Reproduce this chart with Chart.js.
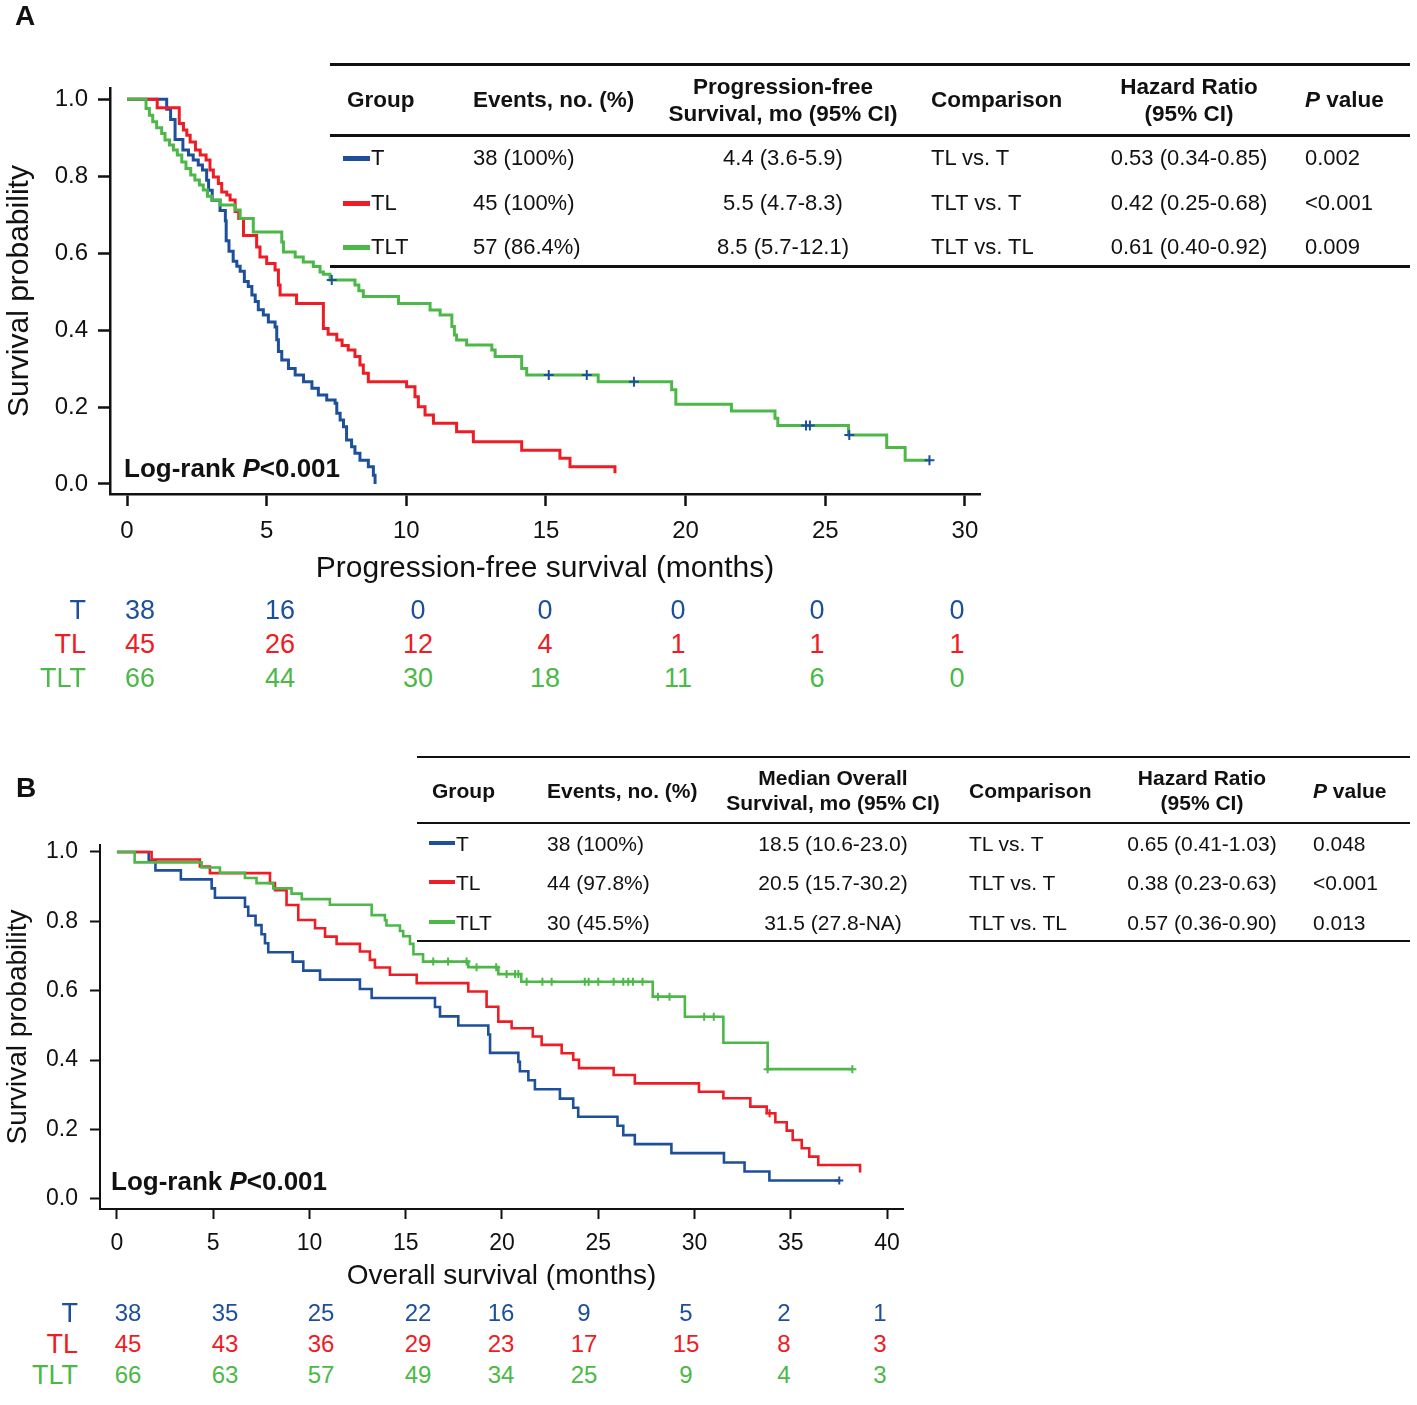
<!DOCTYPE html>
<html><head><meta charset="utf-8">
<script src="https://cdn.jsdelivr.net/npm/chart.js@4.4.0/dist/chart.umd.min.js"></script>
<style>
html,body{margin:0;padding:0;background:#fff;}
body{width:1417px;height:1405px;position:relative;overflow:hidden;font-family:"Liberation Sans",Arial,sans-serif;color:#111;}
.t{position:absolute;white-space:nowrap;line-height:1;}
.cv{position:absolute;}
.hl{position:absolute;background:#111;}
.sw{position:absolute;}
</style></head><body>
<canvas id="cA" class="cv" width="1000" height="600" style="left:0;top:0;width:1000px;height:600px"></canvas>
<canvas id="cB" class="cv" width="1000" height="600" style="left:0;top:700px;width:1000px;height:600px"></canvas>
<script>
// ---------- DATA ----------
const groups = ["T", "TL", "TLT"];
const xTicksA = [0, 5, 10, 15, 20, 25, 30];
const xTicksB = [0, 5, 10, 15, 20, 25, 30, 35, 40];
const yTicks = [0, 0.2, 0.4, 0.6, 0.8, 1.0];

// Panel A: progression-free survival (step curves)
const pfsT_time = [0,1.42,1.56,1.72,2.0,2.2,2.37,2.55,2.7,2.85,2.92,3.05,3.33,3.52,3.55,3.65,3.8,3.93,4.05,4.2,4.34,4.47,4.59,4.7,4.88,5.06,5.3,5.36,5.42,5.54,5.78,6.02,6.32,6.62,6.85,7.15,7.45,7.51,7.63,7.75,7.86,8.04,8.16,8.34,8.64,8.82,8.88];
const pfsT_surv = [1,0.974,0.947,0.895,0.868,0.855,0.842,0.829,0.816,0.789,0.763,0.737,0.711,0.684,0.632,0.605,0.579,0.566,0.553,0.526,0.513,0.491,0.474,0.453,0.439,0.421,0.408,0.375,0.344,0.322,0.300,0.283,0.266,0.249,0.231,0.218,0.210,0.184,0.166,0.149,0.114,0.097,0.080,0.062,0.045,0.023,0.0];
const pfsTL_time = [0,1.08,1.87,2.02,2.14,2.26,2.45,2.62,2.83,2.97,3.09,3.27,3.39,3.57,3.69,3.87,4.0,4.17,4.64,4.76,5.0,5.3,5.42,5.48,6.07,7.03,7.2,7.51,7.7,7.92,8.16,8.34,8.46,8.64,10.01,10.31,10.43,10.67,10.97,11.8,12.4,14.13,15.5,15.86,17.47,17.47];
const pfsTL_surv = [1,0.978,0.937,0.920,0.906,0.889,0.868,0.855,0.842,0.816,0.798,0.781,0.759,0.751,0.738,0.708,0.690,0.646,0.616,0.590,0.573,0.556,0.517,0.491,0.469,0.404,0.389,0.374,0.360,0.348,0.331,0.309,0.288,0.266,0.253,0.227,0.201,0.179,0.158,0.136,0.110,0.088,0.067,0.045,0.045,0.028];
const pfsTLT_time = [0,0.68,0.80,0.92,1.06,1.24,1.36,1.52,1.66,1.80,1.96,2.11,2.28,2.43,2.59,2.73,2.88,3.03,3.33,3.87,4.05,4.52,5.54,5.6,6.02,6.31,6.67,6.91,7.03,7.27,8.16,8.3,8.46,9.72,10.85,11.21,11.63,11.72,11.8,12.16,13.06,13.18,14.13,14.31,16.87,19.5,19.65,21.64,23.2,23.3,25.83,27.2,27.86,28.76];
const pfsTLT_surv = [1,0.976,0.958,0.941,0.926,0.911,0.894,0.881,0.868,0.855,0.837,0.820,0.803,0.790,0.777,0.764,0.748,0.738,0.725,0.712,0.690,0.655,0.629,0.603,0.590,0.577,0.565,0.551,0.545,0.530,0.517,0.502,0.487,0.469,0.452,0.439,0.409,0.387,0.374,0.361,0.348,0.331,0.300,0.283,0.266,0.245,0.207,0.190,0.171,0.152,0.127,0.095,0.062,0.062];
const pfsCensorTLT_time = [7.33,15.1,16.46,18.15,24.31,24.45,25.86,28.73];
const pfsCensorTLT_surv = [0.530,0.283,0.283,0.266,0.152,0.152,0.127,0.062];

// Panel B: overall survival
const osT_time = [0,1.65,2.0,3.32,4.92,5.09,6.65,6.82,7.2,7.51,7.69,7.86,9.13,9.68,10.55,12.62,13.23,16.52,16.78,17.73,19.29,19.38,20.85,20.93,21.37,21.71,23.01,23.7,23.96,26.0,26.3,26.9,28.8,31.53,32.6,33.89,37.52];
const osT_surv = [1,0.974,0.947,0.921,0.895,0.868,0.842,0.816,0.789,0.763,0.737,0.711,0.684,0.658,0.632,0.605,0.579,0.553,0.526,0.500,0.474,0.421,0.395,0.368,0.342,0.316,0.289,0.263,0.237,0.211,0.184,0.158,0.132,0.105,0.079,0.053,0.053];
const osTL_time = [0,1.8,4.31,4.83,7.95,8.21,8.81,9.42,10.29,10.81,11.41,12.62,13.14,13.4,14.18,15.57,18.25,19.2,19.81,20.5,21.6,22.06,23.1,23.7,24.0,25.8,26.9,30.23,31.5,32.9,33.75,34.2,34.79,35.1,35.57,35.96,36.43,38.6,38.6];
const osTL_surv = [1,0.978,0.958,0.939,0.910,0.890,0.847,0.804,0.780,0.756,0.735,0.713,0.689,0.667,0.646,0.622,0.598,0.554,0.511,0.492,0.468,0.444,0.420,0.401,0.377,0.357,0.333,0.309,0.290,0.266,0.247,0.221,0.197,0.170,0.146,0.122,0.098,0.098,0.076];
const osTLT_time = [0,0.92,4.40,5.35,6.65,7.25,8.12,9.07,9.6,11.06,13.23,13.92,14.0,14.7,14.87,15.22,15.4,15.9,18.25,19.81,21.0,27.83,29.5,31.5,33.8,38.2];
const osTLT_surv = [1,0.970,0.955,0.940,0.925,0.910,0.895,0.880,0.864,0.848,0.818,0.803,0.788,0.772,0.757,0.735,0.705,0.684,0.668,0.648,0.626,0.583,0.525,0.450,0.374,0.374];
const osCensorT_time = [37.52];
const osCensorT_surv = [0.053];
const osCensorTL_time = [33.9];
const osCensorTL_surv = [0.247];
const osCensorTLT_time = [16.43,17.2,18.16,18.68,19.7,20.24,20.68,20.85,21.28,22.1,22.58,24.3,24.5,25.0,25.8,26.3,26.56,26.8,27.3,28.1,28.7,30.5,31.0,33.8,38.2];
const osCensorTLT_surv = [0.684,0.684,0.684,0.668,0.668,0.648,0.648,0.648,0.626,0.626,0.626,0.626,0.626,0.626,0.626,0.626,0.626,0.626,0.626,0.583,0.583,0.525,0.525,0.374,0.374];

// Tables
const headersA = ["Group", "Events, no. (%)", "Progression-free<br>Survival, mo (95% CI)", "Comparison", "Hazard Ratio<br>(95% CI)", "<i>P</i> value"];
const eventsA = ["38 (100%)", "45 (100%)", "57 (86.4%)"];
const medianA = ["4.4 (3.6-5.9)", "5.5 (4.7-8.3)", "8.5 (5.7-12.1)"];
const comparisons = ["TL vs. T", "TLT vs. T", "TLT vs. TL"];
const hrA = ["0.53 (0.34-0.85)", "0.42 (0.25-0.68)", "0.61 (0.40-0.92)"];
const pA = ["0.002", "<0.001", "0.009"];
const headersB = ["Group", "Events, no. (%)", "Median Overall<br>Survival, mo (95% CI)", "Comparison", "Hazard Ratio<br>(95% CI)", "<i>P</i> value"];
const eventsB = ["38 (100%)", "44 (97.8%)", "30 (45.5%)"];
const medianB = ["18.5 (10.6-23.0)", "20.5 (15.7-30.2)", "31.5 (27.8-NA)"];
const hrB = ["0.65 (0.41-1.03)", "0.38 (0.23-0.63)", "0.57 (0.36-0.90)"];
const pB = ["0.048", "<0.001", "0.013"];

// Numbers at risk
const riskA_T = [38, 16, 0, 0, 0, 0, 0];
const riskA_TL = [45, 26, 12, 4, 1, 1, 1];
const riskA_TLT = [66, 44, 30, 18, 11, 6, 0];
const riskB_T = [38, 35, 25, 22, 16, 9, 5, 2, 1];
const riskB_TL = [45, 43, 36, 29, 23, 17, 15, 8, 3];
const riskB_TLT = [66, 63, 57, 49, 34, 25, 9, 4, 3];

// ---------- STYLE ----------
const BLUE = "#1d4f9b", RED = "#ee1c24", GREEN = "#4cb848", INK = "#111";
const colors = [BLUE, RED, GREEN];
Chart.defaults.font.family = "'Liberation Sans', Arial, sans-serif";

function xy(ts, ss) { return ts.map((t, i) => ({ x: t, y: ss[i] })); }

function kmChart(id, o) {
  const ds = [];
  o.curves.forEach((c, k) => {
    ds.push({ data: xy(c.t, c.s), borderColor: c.color, borderWidth: o.lw, stepped: 'before',
      pointRadius: 0, fill: false, order: 3 - k, clip: false });
  });
  o.censors.forEach(c => {
    ds.push({ data: xy(c.t, c.s), showLine: false, pointStyle: 'cross', pointRadius: o.cr,
      pointBorderWidth: 2, pointBorderColor: c.color, borderColor: c.color, order: 0, clip: false });
  });
  return new Chart(document.getElementById(id), {
    type: 'line',
    data: { datasets: ds },
    options: {
      responsive: false, animation: false, devicePixelRatio: 1,
      layout: { padding: o.pad },
      plugins: { legend: { display: false }, tooltip: { enabled: false } },
      scales: {
        x: { type: 'linear', min: o.xmin, max: o.xmax,
          afterBuildTicks: s => { s.ticks = o.xticks.map(v => ({ value: v })); },
          afterFit: s => { s.height = o.xh; },
          ticks: { autoSkip: false, maxRotation: 0, font: { size: o.tf }, color: INK, padding: o.xpad, callback: v => String(v) },
          grid: { drawOnChartArea: false, drawTicks: true, tickLength: o.tl, tickWidth: o.aw, tickColor: INK },
          border: { display: true, color: INK, width: o.aw },
          title: { display: true, text: o.xtitle, font: { size: o.ttf }, color: INK, padding: { top: 0, bottom: o.xtpad } } },
        y: { type: 'linear', min: o.ymin, max: o.ymax,
          afterBuildTicks: s => { s.ticks = yTicks.map(v => ({ value: v })); },
          afterFit: s => { s.width = o.yw; },
          ticks: { autoSkip: false, font: { size: o.tf }, color: INK, padding: o.ypad, callback: v => Number(v).toFixed(1) },
          grid: { drawOnChartArea: false, drawTicks: true, tickLength: o.tl, tickWidth: o.aw, tickColor: INK },
          border: { display: true, color: INK, width: o.aw },
          title: { display: true, text: 'Survival probability', font: { size: o.ttf }, color: INK, padding: { top: o.ytpad, bottom: 0 } } }
      }
    }
  });
}

kmChart('cA', {
  curves: [ { t: pfsT_time, s: pfsT_surv, color: BLUE }, { t: pfsTL_time, s: pfsTL_surv, color: RED }, { t: pfsTLT_time, s: pfsTLT_surv, color: GREEN } ],
  censors: [ { t: pfsCensorTLT_time, s: pfsCensorTLT_surv, color: BLUE } ],
  lw: 3, cr: 5, aw: 2.5, tl: 12, tf: 24, ttf: 30,
  xmin: -0.61, xmax: 30.54, ymin: -0.026, ymax: 1.029, xticks: xTicksA,
  pad: { left: 0, top: 88, right: 20, bottom: 0 }, xh: 106, yw: 110,
  xpad: 11, ypad: 10, xtpad: 13, ytpad: 2,
  xtitle: 'Progression-free survival (months)'
});
kmChart('cB', {
  curves: [ { t: osT_time, s: osT_surv, color: BLUE }, { t: osTL_time, s: osTL_surv, color: RED }, { t: osTLT_time, s: osTLT_surv, color: GREEN } ],
  censors: [ { t: osCensorT_time, s: osCensorT_surv, color: BLUE }, { t: osCensorTL_time, s: osCensorTL_surv, color: RED }, { t: osCensorTLT_time, s: osCensorTLT_surv, color: GREEN } ],
  lw: 2.6, cr: 4, aw: 2, tl: 10, tf: 23, ttf: 28,
  xmin: -0.88, xmax: 40.83, ymin: -0.029, ymax: 1.02, xticks: xTicksB,
  pad: { left: 0, top: 145, right: 97, bottom: 0 }, xh: 91, yw: 100,
  xpad: 11, ypad: 12, xtpad: 7, ytpad: 1,
  xtitle: 'Overall survival (months)'
});

// ---------- OVERLAY TEXT ----------
function txt(x, y, html, o) {
  o = o || {};
  const d = document.createElement('div');
  d.className = 't';
  d.innerHTML = html;
  const ax = o.align === 'center' ? '-50%' : o.align === 'right' ? '-100%' : '0';
  d.style.left = x + 'px'; d.style.top = y + 'px';
  d.style.transform = 'translate(' + ax + ',-50%)';
  d.style.fontSize = (o.size || 20) + 'px';
  if (o.bold) d.style.fontWeight = 'bold';
  if (o.color) d.style.color = o.color;
  if (o.lh) { d.style.lineHeight = o.lh + 'px'; d.style.textAlign = o.align || 'left'; }
  document.body.appendChild(d);
}
function hline(x1, x2, y, w) {
  const d = document.createElement('div'); d.className = 'hl';
  d.style.left = x1 + 'px'; d.style.width = (x2 - x1) + 'px';
  d.style.top = (y - w / 2) + 'px'; d.style.height = w + 'px';
  document.body.appendChild(d);
}
function swatch(x, y, w, h, c) {
  const d = document.createElement('div'); d.className = 'sw';
  d.style.left = x + 'px'; d.style.top = (y - h / 2) + 'px';
  d.style.width = w + 'px'; d.style.height = h + 'px'; d.style.background = c;
  document.body.appendChild(d);
}

// Panel letters
txt(15, 16, 'A', { size: 28, bold: true });
txt(16, 788, 'B', { size: 28, bold: true });

// Log-rank annotations
txt(124, 468, 'Log-rank <i>P</i>&lt;0.001', { size: 26, bold: true });
txt(111, 1181, 'Log-rank <i>P</i>&lt;0.001', { size: 26, bold: true });

// Table builder
function table(L) {
  hline(L.x1, L.x2, L.yTop, L.lw);
  hline(L.x1, L.x2, L.yMid, L.lw);
  hline(L.x1, L.x2, L.yBot, L.lw);
  const cx = L.cols;
  L.headers.forEach((h, i) => {
    const two = h.indexOf('<br>') >= 0;
    txt(cx[i].x, L.yHead, h, { size: L.hs, bold: true, align: cx[i].a, lh: two ? L.hlh : null });
  });
  groups.forEach((g, r) => {
    const y = L.rows[r];
    swatch(L.swx, y, L.sww, L.swh, colors[r]);
    txt(L.swx + L.sww + 1, y, g, { size: L.bs });
    txt(cx[1].x, y, L.events[r], { size: L.bs, align: cx[1].a });
    txt(cx[2].x, y, L.median[r], { size: L.bs, align: 'center' });
    txt(cx[3].x, y, comparisons[r], { size: L.bs, align: cx[3].a });
    txt(cx[4].x, y, L.hr[r], { size: L.bs, align: 'center' });
    txt(cx[5].x, y, L.p[r].replace('<', '&lt;'), { size: L.bs, align: cx[5].a });
  });
}
table({ x1: 330, x2: 1410, yTop: 64, yMid: 135, yBot: 266, lw: 3, yHead: 100, hlh: 27,
  rows: [158, 203, 247], hs: 22.5, bs: 22,
  cols: [ { x: 347, a: 'left' }, { x: 473, a: 'left' }, { x: 783, a: 'center' }, { x: 931, a: 'left' }, { x: 1189, a: 'center' }, { x: 1305, a: 'left' } ],
  swx: 343, sww: 27, swh: 5,
  headers: headersA, events: eventsA, median: medianA, hr: hrA, p: pA });
table({ x1: 417, x2: 1410, yTop: 757, yMid: 823, yBot: 941, lw: 2.5, yHead: 790, hlh: 25,
  rows: [843, 882, 922], hs: 21, bs: 21,
  cols: [ { x: 432, a: 'left' }, { x: 547, a: 'left' }, { x: 833, a: 'center' }, { x: 969, a: 'left' }, { x: 1202, a: 'center' }, { x: 1313, a: 'left' } ],
  swx: 429, sww: 26, swh: 4.5,
  headers: headersB, events: eventsB, median: medianB, hr: hrB, p: pB });

// Numbers at risk
function riskTable(R) {
  R.rows.forEach((vals, r) => {
    txt(R.labelX, R.ys[r], groups[r], { size: R.ls, align: 'right', color: colors[r] });
    vals.forEach((v, i) => txt(R.cols[i], R.ys[r], String(v), { size: R.ns, align: 'center', color: colors[r] }));
  });
}
riskTable({ rows: [riskA_T, riskA_TL, riskA_TLT], labelX: 86, ys: [610, 644, 678], ls: 27, ns: 27,
  cols: [140, 280, 418, 545, 678, 817, 957] });
riskTable({ rows: [riskB_T, riskB_TL, riskB_TLT], labelX: 78, ys: [1313, 1344, 1375], ls: 27, ns: 24,
  cols: [128, 225, 321, 418, 501, 584, 686, 784, 880] });
</script>
</body></html>
